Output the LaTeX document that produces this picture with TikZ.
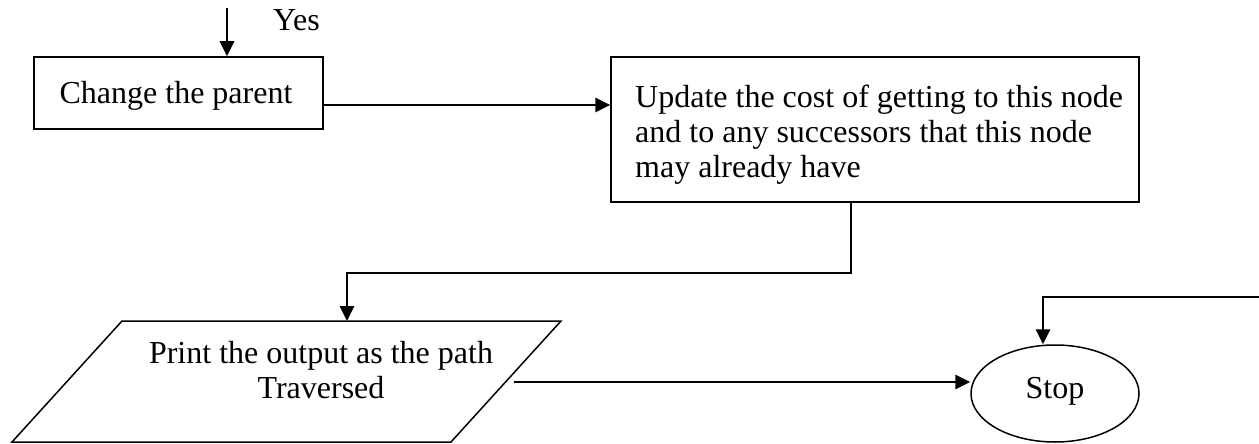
\documentclass[tikz,border=0pt]{standalone}
\usepackage{fontspec}
\setmainfont{Liberation Serif}
\usetikzlibrary{arrows.meta,shapes.geometric}

\tikzset{
  line/.style={line width=1.5pt, draw=black},
  arr/.style={line, -{Triangle[length=15pt,width=14.5pt]}},
  box/.style={line, rectangle, inner sep=0pt},
  oval/.style={line, ellipse, inner sep=0pt},
  txt/.style={inner sep=0pt, font=\fontsize{32}{35}\selectfont},
}

\begin{document}
\begin{tikzpicture}[x=1pt, y=-1pt]
  \useasboundingbox (0,0) rectangle (1259,444);

  % process boxes
  \node[box, minimum width=289pt, minimum height=72pt] (change) at (178.5,93) {};
  \node[txt, anchor=base] (changetxt) at (176,103) {Change the parent};

  \node[box, minimum width=528pt, minimum height=145pt] (update) at (875,129.5) {};
  % base anchor of a multi-line node sits on its last line
  \node[txt, anchor=base west, align=left] (updatetxt) at (635,177)
    {Update the cost of getting to this node\\
     and to any successors that this node\\
     may already have};

  % output parallelogram
  \coordinate (ptl) at (122,321);
  \coordinate (ptr) at (561,321);
  \coordinate (pbr) at (451,442);
  \coordinate (pbl) at (12,442);
  \draw[line, line join=miter] (ptl) -- (ptr) -- (pbr) -- (pbl) -- cycle;
  \node[txt, anchor=base, align=center] (printtxt) at (321,398)
    {Print the output as the path\\Traversed};

  % terminal
  \node[oval, minimum width=168pt, minimum height=97pt, txt,
        text height=22pt, text depth=13pt] (stop) at (1055,393.5) {Stop};

  % incoming "Yes" branch
  \coordinate (yesin) at (227,8);
  \node[txt, anchor=base west] (yes) at (273,31) {Yes};
  \draw[arr] (yesin) -- (yesin |- change.north);

  % change -> update
  \draw[arr] ([yshift=-12pt]change.east) -- ([yshift=-12pt]change.east -| update.west);

  % update -> print
  \coordinate (bend) at (851,273);
  \coordinate (ptop) at (347,321);
  \draw[arr] (bend |- update.south) -- (bend) -- (bend -| ptop) -- (ptop);

  % print -> stop
  \coordinate (pout) at (514,382);
  \draw[arr] (pout) -- (pout -| stop.west);

  % line coming in from the right into stop
  \coordinate (rin) at (1259,297);
  \coordinate (sbend) at (1043,297);
  \draw[arr] (rin) -- (sbend) -- (sbend |- stop.north);
  \draw[line width=2.4pt] (1067,297) -- (1090,297);
\end{tikzpicture}
\end{document}
